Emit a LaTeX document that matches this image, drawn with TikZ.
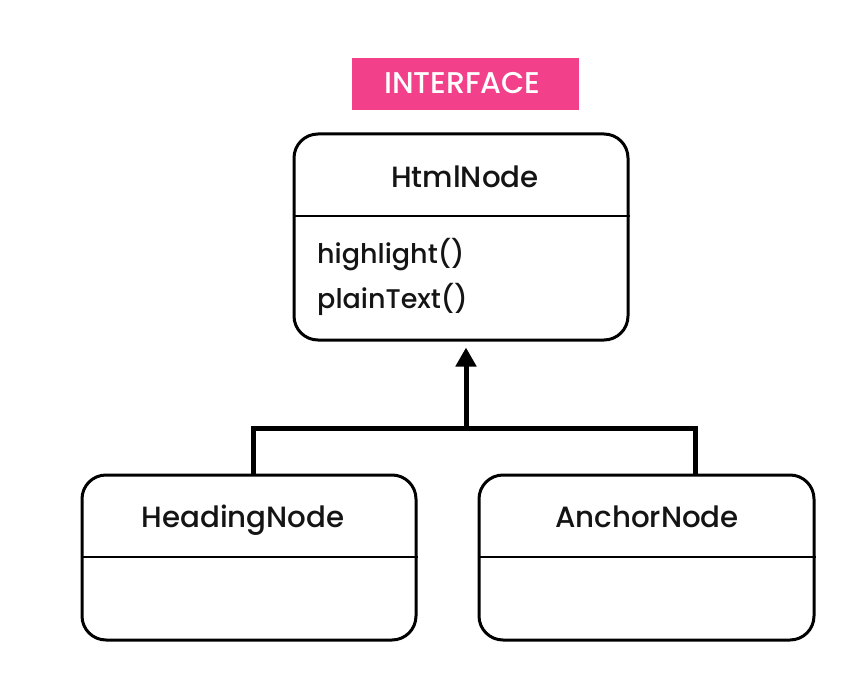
\documentclass[tikz,border=0pt]{standalone}
\usepackage{fontspec}
\setmainfont{Poppins}[UprightFont=* Medium]
\usetikzlibrary{arrows.meta}
\definecolor{ifpink}{HTML}{F2408A}
\tikzset{
  umlbox/.style={draw=black, line width=3pt, rounded corners=24pt, inner sep=0pt},
  divider/.style={draw=black, line width=2.6pt},
  title/.style={font=\fontsize{29.3}{33}\selectfont, text=black!92, inner sep=0pt, anchor=base},
  method/.style={font=\fontsize{27}{32}\selectfont, text=black!92, inner sep=0pt, anchor=base west},
  conn/.style={draw=black, line width=5pt},
  tag/.style={fill=ifpink, minimum width=227pt, minimum height=52pt, inner sep=0pt},
  tagtext/.style={text=white, font=\fontsize{30}{33}\selectfont, inner sep=0pt, anchor=base}
}
\begin{document}
\begin{tikzpicture}[x=1pt,y=-1pt]
\useasboundingbox[fill=white] (0,0) rectangle (851,698);
% interface tag
\node[tag] (iface) at (465.5,84) {};
\node[tagtext] (ifacetext) at (462.5,93.5) {INTERFACE};
% HtmlNode
\node[umlbox, minimum width=334pt, minimum height=206pt] (html) at (461,237) {};
\draw[divider] (html.west |- 0,216) -- (html.east |- 0,216);
\node[title] (htmltitle) at (465,187) {HtmlNode};
\node[method] (m1) at (317,263.5) {highlight()};
\node[method] (m2) at (317,308) {plainText()};
% HeadingNode
\node[umlbox, minimum width=334pt, minimum height=165pt] (heading) at (249,557.5) {};
\draw[divider] (heading.west |- 0,557) -- (heading.east |- 0,557);
\node[title] (headingtitle) at (243,527) {HeadingNode};
% AnchorNode
\node[umlbox, minimum width=335pt, minimum height=165pt] (anchor) at (646.5,557.5) {};
\draw[divider] (anchor.west |- 0,557) -- (anchor.east |- 0,557);
\node[title] (anchortitle) at (647,527) {AnchorNode};
% connectors
\coordinate (j) at (466,428);
\coordinate (jl) at (253,428);
\coordinate (jr) at (695,428);
\draw[conn] (heading.north -| jl) -- (jl) -- (jr) -- (anchor.north -| jr);
\draw[conn, -{Triangle[width=20pt,length=19pt]}, shorten >=6pt] (j) -- (j |- html.south);
\end{tikzpicture}
\end{document}
